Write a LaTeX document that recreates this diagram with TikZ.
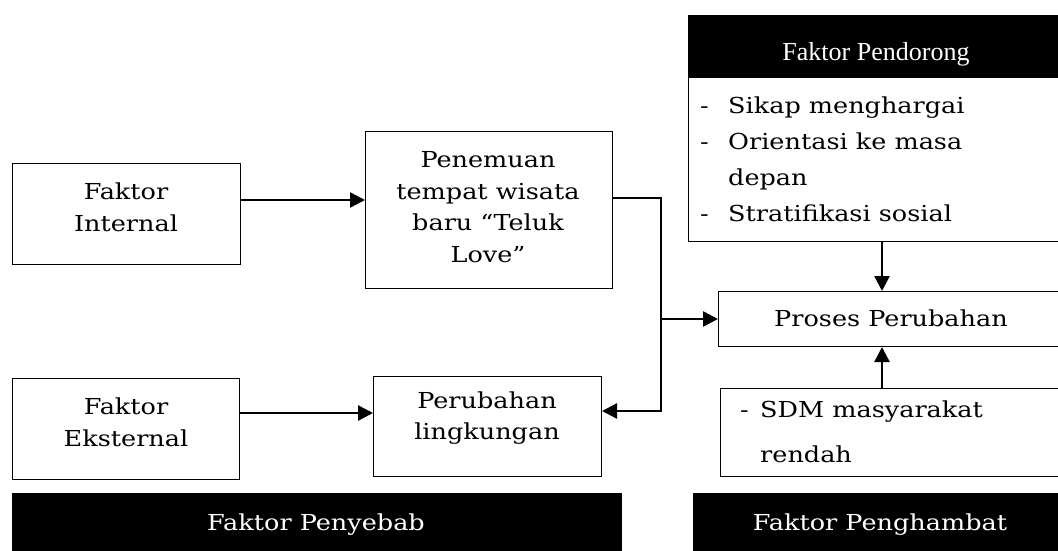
\documentclass[tikz,border=0pt]{standalone}
\usepackage{fontspec}
\setmainfont[FakeStretch=1.16]{DejaVu Serif}
\newfontfamily\timesfont{Liberation Serif}
\usetikzlibrary{arrows.meta}
\newcommand\bsize{\fontsize{22}{31.7}\selectfont}
\begin{document}
\begin{tikzpicture}[x=1pt,y=-1pt,
  box/.style={draw=black,line width=1pt,fill=white,anchor=north west,inner sep=0pt},
  bar/.style={fill=black,draw=none,anchor=north west,inner sep=0pt},
  txt/.style={align=center,font=\bsize,inner sep=0pt},
  wtxt/.style={font=\bsize,text=white,inner sep=0pt,anchor=base},
  lst/.style={align=left,font=\bsize,inner sep=0pt,anchor=north west},
  arr/.style={line width=2.5pt,-{Triangle[length=15pt,width=15pt]}},
  ln/.style={line width=1.5pt}]
\useasboundingbox (0,0) rectangle (1058,551);
\clip (0,0) rectangle (1058,551);

% left column
\node[box,minimum width=228pt,minimum height=101pt] (int) at (12,163) {};
\node[txt] (intT) at (126,207) {Faktor\\Internal};
\node[box,minimum width=227pt,minimum height=101pt] (ext) at (12,378) {};
\node[txt] (extT) at (126,422) {Faktor\\Eksternal};

% middle column
\node[box,minimum width=247pt,minimum height=157pt] (pen) at (365,131) {};
\node[txt] (penT) at (488,207) {Penemuan\\tempat wisata\\baru “Teluk\\Love”};
\node[box,minimum width=228pt,minimum height=100pt] (per) at (373,376) {};
\node[txt] (perT) at (487,418) {Perubahan\\lingkungan};

% right column
\node[box,minimum width=382pt,minimum height=226pt] (pend) at (688,15) {};
\node[bar,minimum width=382pt,minimum height=63pt] (pendH) at (688,15) {};
\node[anchor=base,inner sep=0pt,text=white,font=\timesfont\fontsize{26}{30}\selectfont] (pendHT) at (876,60) {Faktor Pendorong};
\node[lst] (pendL) at (700,97) {%
  \makebox[28pt][l]{-}Sikap menghargai\\[4.3pt]
  \makebox[28pt][l]{-}Orientasi ke masa\\[4.3pt]
  \makebox[28pt][l]{}depan\\[4.3pt]
  \makebox[28pt][l]{-}Stratifikasi sosial};

\node[box,minimum width=352pt,minimum height=55pt] (pro) at (718,291) {};
\node[txt] (proT) at (891,318) {Proses Perubahan};

\node[box,minimum width=350pt,minimum height=88pt] (sdm) at (720,388) {};
\node[lst] (sdmL) at (740,401) {%
  \makebox[20pt][l]{-}SDM masyarakat\\[13.3pt]
  \makebox[20pt][l]{}rendah};

% bottom bars
\node[bar,minimum width=610pt,minimum height=70pt] (peny) at (12,493) {};
\node[wtxt] (penyT) at (316,530) {Faktor Penyebab};
\node[bar,minimum width=377pt,minimum height=70pt] (peng) at (693,493) {};
\node[wtxt] (pengT) at (880,530) {Faktor Penghambat};

% connectors
\coordinate (y1) at (0,200);
\coordinate (y2) at (0,413);
\coordinate (j1) at (661,198);
\coordinate (jm) at (661,319);
\coordinate (j2) at (661,411);
\coordinate (ax) at (882,0);
\draw[arr] (int.east |- y1) -- (pen.west |- y1);
\draw[arr] (ext.east |- y2) -- (per.west |- y2);
\draw[ln] (pen.east |- j1) -- (j1) -- ([yshift=-0.7pt]j2);
\draw[arr] (j2) -- (per.east |- j2);
\draw[arr] (jm) -- (pro.west |- jm);
\draw[arr] (pend.south -| ax) -- (pro.north -| ax);
\draw[arr] (sdm.north -| ax) -- (pro.south -| ax);
\end{tikzpicture}
\end{document}
